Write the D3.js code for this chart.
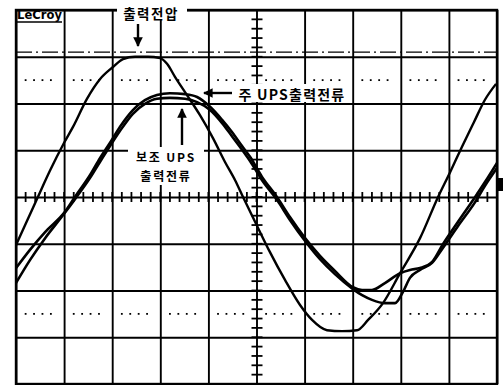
<!DOCTYPE html>
<html>
<head>
<meta charset="utf-8">
<script src="https://cdn.jsdelivr.net/npm/d3@7/dist/d3.min.js"></script>
<style>
	body { margin: 0; background: #fff; }
	svg { display: block; }
	text { font-family: "Noto Sans CJK KR", "Noto Sans", sans-serif; font-weight: 700; fill: #000; }
</style>
</head>
<body>
<div id="scope"></div>
<script>
// screen: 10 div x 2 ms, 8 div vertical
const timeTicks = [0, 2, 4, 6, 8, 10, 12, 14, 16, 18, 20];
const levelTicks = [-4, -3, -2, -1, 0, 1, 2, 3, 4];
const dottedLevels = [2.5, -2.5];
const cursorLevel = 3.1;

// 출력전압 (output voltage)
const voltTime = [0, 0.46, 0.91, 1.41, 2.0, 2.37, 2.95, 3.49, 4.03, 4.45, 4.95, 5.49, 5.99, 6.28, 6.61, 7.11, 7.65, 8.19, 8.69, 9.11, 9.44, 9.94, 10.56, 11.19, 11.81, 12.31, 12.93, 13.56, 14.18, 14.64, 15.26, 15.97, 16.8, 17.55, 18.05, 18.54, 19.04, 19.5, 19.96];
const voltLevel = [-1.03, -0.51, 0, 0.56, 1.16, 1.5, 2.1, 2.52, 2.78, 2.95, 3.0, 3.0, 2.97, 2.85, 2.57, 2.18, 1.75, 1.26, 0.75, 0.36, 0, -0.53, -1.18, -1.78, -2.31, -2.63, -2.85, -2.87, -2.85, -2.63, -2.27, -1.63, -0.88, 0, 0.53, 1.07, 1.6, 2.08, 2.42];

// 주 UPS 출력전류 (main UPS current)
const mainTime = [0, 0.58, 1.21, 2.0, 2.45, 3.08, 3.49, 3.91, 4.32, 4.86, 5.36, 5.86, 6.4, 7.03, 7.53, 8.07, 8.57, 8.98, 9.4, 9.73, 10.23, 10.85, 11.39, 12.02, 12.64, 13.26, 14.01, 14.39, 14.8, 15.34, 15.97, 16.38, 16.8, 17.3, 17.75, 18.38, 19.09, 19.5, 20.0];
const mainLevel = [-1.52, -1.13, -0.75, -0.34, 0, 0.47, 0.83, 1.16, 1.5, 1.86, 2.07, 2.18, 2.22, 2.2, 2.14, 1.93, 1.65, 1.39, 1.09, 0.86, 0.43, 0, -0.43, -0.88, -1.26, -1.58, -1.93, -1.99, -1.99, -1.84, -1.63, -1.56, -1.52, -1.39, -1.01, -0.53, 0, 0.32, 0.73];

// 보조 UPS 출력전류 (auxiliary UPS current)
const auxTime = [0, 0.58, 1.21, 2.0, 2.49, 3.08, 3.49, 3.91, 4.32, 4.86, 5.36, 5.86, 6.4, 7.03, 7.53, 8.07, 8.57, 8.98, 9.4, 9.73, 10.23, 10.85, 11.39, 12.02, 12.64, 13.26, 14.01, 14.39, 14.8, 15.34, 15.76, 16.09, 16.38, 16.8, 17.3, 17.75, 18.38, 19.09, 19.5, 20.0];
const auxLevel = [-1.84, -1.35, -0.88, -0.36, -0.02, 0.41, 0.75, 1.09, 1.41, 1.78, 1.99, 2.1, 2.12, 2.1, 2.03, 1.86, 1.58, 1.3, 1.01, 0.77, 0.36, -0.06, -0.49, -0.94, -1.33, -1.65, -1.97, -2.1, -2.2, -2.27, -2.27, -2.03, -1.73, -1.56, -1.41, -1.09, -0.62, -0.11, 0.24, 0.62];

const W = 503, H = 385;

const svg = d3.select("#scope")
	.append("svg")
	.attr("width", W)
	.attr("height", H)
	.attr("viewBox", `0 0 ${W} ${H}`);

svg.append("rect").attr("width", W).attr("height", H).attr("fill", "#fff");

const x = d3.scaleLinear().domain([0, 20]).range([16, 497]);
const y = d3.scaleLinear().domain([-4, 4]).range([384, 10]);

const plotH = y(-4) - y(4);
const plotW = x(20) - x(0);

// grid
const grid = svg.append("g").attr("class", "grid");

grid.append("g")
	.attr("transform", `translate(0, ${y(-4)})`)
	.call(d3.axisBottom(x).tickValues(timeTicks).tickSize(-plotH).tickFormat(""))
	.call((g) => g.select(".domain").remove());

grid.append("g")
	.attr("transform", `translate(${x(0)}, 0)`)
	.call(d3.axisLeft(y).tickValues(levelTicks).tickSize(-plotW).tickFormat(""))
	.call((g) => g.select(".domain").remove());

grid.selectAll(".tick line")
	.attr("stroke", "#000")
	.attr("stroke-width", 1.9);

// outer frame
svg.append("rect")
	.attr("x", x(0))
	.attr("y", y(4))
	.attr("width", plotW)
	.attr("height", plotH)
	.attr("fill", "none")
	.attr("stroke", "#000")
	.attr("stroke-width", 2.4);

// minor ticks on the centre cross (5 per division)
const minorTime = d3.range(0, 20.001, 0.4);
const minorLevel = d3.range(-4, 4.001, 0.2);

grid.append("g")
	.attr("class", "minor-x")
	.selectAll("line")
	.data(minorTime)
	.join("line")
	.attr("x1", (d) => x(d))
	.attr("x2", (d) => x(d))
	.attr("y1", y(0) - 5)
	.attr("y2", y(0) + 5)
	.attr("stroke", "#000")
	.attr("stroke-width", 1.8);

grid.append("g")
	.attr("class", "minor-y")
	.selectAll("line")
	.data(minorLevel)
	.join("line")
	.attr("x1", x(10) - 5)
	.attr("x2", x(10) + 6)
	.attr("y1", (d) => y(d))
	.attr("y2", (d) => y(d))
	.attr("stroke", "#000")
	.attr("stroke-width", 1.8);

// dotted reference levels, 4 dots per division
const dots = [];
dottedLevels.forEach((lv) => {
	timeTicks.slice(0, -1).forEach((t) => {
		[0.4, 0.75, 1.1, 1.45].forEach((o) => dots.push([t + o, lv]));
	});
});

grid.append("g")
	.attr("class", "dots")
	.selectAll("rect")
	.data(dots)
	.join("rect")
	.attr("x", (d) => x(d[0]) - 0.9)
	.attr("y", (d) => y(d[1]) - 0.9)
	.attr("width", 1.8)
	.attr("height", 1.8)
	.attr("fill", "#000");

// cursor (dash-dot)
grid.append("line")
	.attr("x1", x(0))
	.attr("x2", x(20))
	.attr("y1", y(cursorLevel))
	.attr("y2", y(cursorLevel))
	.attr("stroke", "#000")
	.attr("stroke-width", 1.4)
	.attr("stroke-dasharray", "16,4,2,4");

// traces
const line = d3.line()
	.x((d) => x(d[0]))
	.y((d) => y(d[1]))
	.curve(d3.curveMonotoneX);

const traces = [
	{ name: "volt", t: voltTime, v: voltLevel, w: 2.4 },
	{ name: "main", t: mainTime, v: mainLevel, w: 2.6 },
	{ name: "aux", t: auxTime, v: auxLevel, w: 2.6 },
];

svg.append("g")
	.attr("class", "traces")
	.selectAll("path")
	.data(traces)
	.join("path")
	.attr("class", (d) => `trace-${d.name}`)
	.attr("fill", "none")
	.attr("stroke", "#000")
	.attr("stroke-width", (d) => d.w)
	.attr("stroke-linejoin", "round")
	.attr("d", (d) => line(d.t.map((t, i) => [t, d.v[i]])));

// channel marker on the right edge
svg.append("rect")
	.attr("x", x(20) + 1)
	.attr("y", y(0) - 19)
	.attr("width", 5)
	.attr("height", 13)
	.attr("fill", "#000");

// annotations
const notes = svg.append("g").attr("class", "notes");

svg.append("defs").html(`
	<marker id="head" viewBox="0 0 10 10" refX="9" refY="5" markerWidth="4" markerHeight="4" orient="auto-start-reverse">
		<path d="M0,0 L10,5 L0,10 z" fill="#000"/>
	</marker>
`);

function arrow(x1, y1, x2, y2) {
	notes.append("line")
		.attr("x1", x1).attr("y1", y1)
		.attr("x2", x2).attr("y2", y2)
		.attr("stroke", "#000")
		.attr("stroke-width", 2.4)
		.attr("marker-end", "url(#head)");
}

// one <text> per label, extra lines as tspans
function label(lines, cx, cy, box, size, spacing, lead) {
	notes.append("rect")
		.attr("x", box[0]).attr("y", box[1])
		.attr("width", box[2]).attr("height", box[3])
		.attr("fill", "#fff");
	notes.append("text")
		.attr("x", cx)
		.attr("y", cy)
		.attr("text-anchor", "middle")
		.attr("dominant-baseline", "central")
		.attr("font-size", size)
		.attr("letter-spacing", spacing)
		.selectAll("tspan")
		.data(lines)
		.join("tspan")
		.attr("x", cx)
		.attr("dy", (d, i) => (i === 0 ? 0 : lead))
		.text((d) => d);
}

// LeCroy logo
notes.append("text")
	.attr("x", 17)
	.attr("y", 19)
	.attr("font-size", 11.5)
	.attr("textLength", 45)
	.style("font-family", "'DejaVu Sans', sans-serif")
	.text("LeCroy");
notes.append("line")
	.attr("x1", 17).attr("x2", 62)
	.attr("y1", 22).attr("y2", 22)
	.attr("stroke", "#000").attr("stroke-width", 1.6);

label(["출력전압"], 151, 13, [117, 2, 70, 18], 13.5, 1.5, 0);
arrow(138, 24, 138, 46);

label(["주 UPS출력전류"], 292, 94, [231, 84, 120, 18], 14, 1.2, 0);
arrow(232, 93, 204, 93);

label(["보조 UPS", "출력전류"], 166, 156, [128, 147, 76, 38], 12, 1.8, 19);
arrow(182, 145, 182, 109);
</script>
</body>
</html>
